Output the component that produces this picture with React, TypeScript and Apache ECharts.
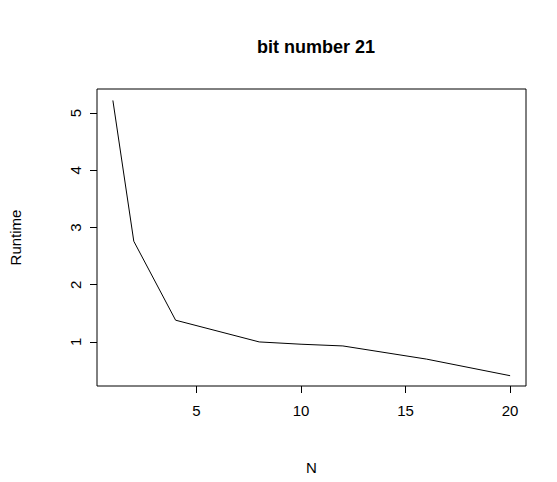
import React, { useEffect, useRef } from "react";
import * as echarts from "echarts";

const nValues = [1, 2, 4, 8, 10, 12, 16, 20];
const runtime = [5.22, 2.76, 1.38, 1.0, 0.96, 0.93, 0.7, 0.41];
const xTicks = [5, 10, 15, 20];
const yTicks = [1, 2, 3, 4, 5];

export default function App() {
  const ref = useRef<HTMLDivElement>(null);
  useEffect(() => {
    const chart = echarts.init(ref.current!, null, { renderer: "svg" });
    const font = "Liberation Sans, Arial, sans-serif";
    chart.setOption({
      animation: false,
      backgroundColor: "#fff",
      title: {
        text: "bit number 21",
        left: 311,
        top: 33,
        textAlign: "center",
        textStyle: { fontFamily: font, fontSize: 18, fontWeight: "bold", color: "#000" },
      },
      grid: { left: 96, right: 31, top: 89, bottom: 96, show: true, borderColor: "#000", borderWidth: 1 },
      xAxis: {
        type: "value",
        min: 0.24,
        max: 20.76,
        name: "N",
        nameLocation: "middle",
        nameGap: 74,
        nameTextStyle: { fontFamily: font, fontSize: 15, color: "#000" },
        axisLine: { show: false },
        splitLine: { show: false },
        axisTick: { show: true, length: 7, inside: false, lineStyle: { color: "#000" }, customValues: xTicks },
        axisLabel: { fontFamily: font, fontSize: 15, color: "#000", margin: 17, customValues: xTicks },
      },
      yAxis: {
        type: "value",
        min: 0.23,
        max: 5.42,
        name: "Runtime",
        nameLocation: "middle",
        nameGap: 74,
        nameRotate: 90,
        nameTextStyle: { fontFamily: font, fontSize: 15, color: "#000" },
        axisLine: { show: false },
        splitLine: { show: false },
        axisTick: { show: true, length: 7, lineStyle: { color: "#000" }, customValues: yTicks },
        axisLabel: { fontFamily: font, fontSize: 15, color: "#000", rotate: 90, margin: 22, customValues: yTicks, align: "center", verticalAlign: "middle" },
      },
      series: [
        {
          type: "line",
          data: nValues.map((n, i) => [n, runtime[i]]),
          symbol: "none",
          lineStyle: { color: "#000", width: 1 },
        },
      ],
    });
    return () => chart.dispose();
  }, []);
  return <div ref={ref} style={{ position: "absolute", left: 0, top: 0, width: 557, height: 482 }} />;
}
